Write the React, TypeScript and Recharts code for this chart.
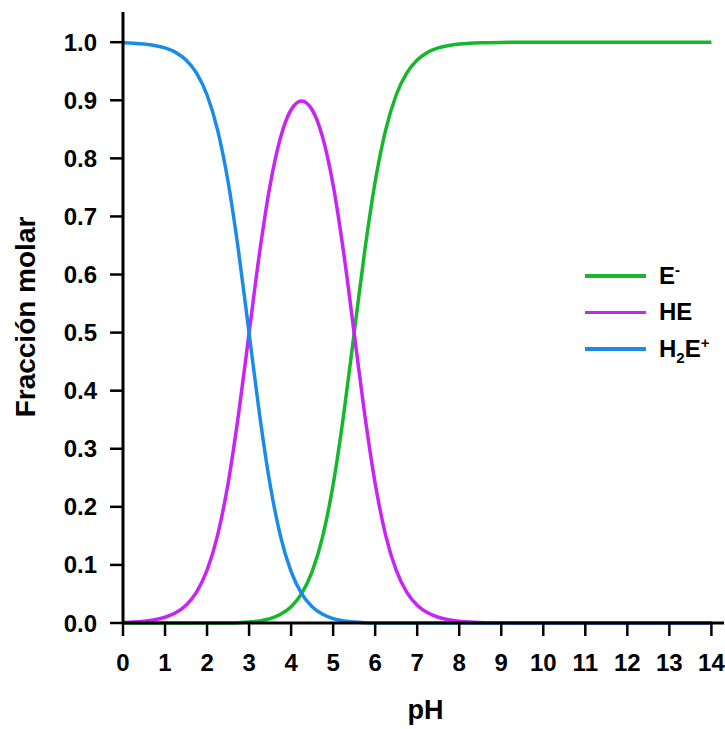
import { Label, Legend, Line, LineChart, XAxis, YAxis } from "recharts"

// pH grid and molar fractions
const ph = [
  0, 0.25, 0.5, 0.75, 1, 1.25, 1.5, 1.75, 2, 2.25, 2.5, 2.75, 3, 3.25, 3.5,
  3.75, 4, 4.25, 4.5, 4.75, 5, 5.25, 5.5, 5.75, 6, 6.25, 6.5, 6.75, 7, 7.25,
  7.5, 7.75, 8, 8.25, 8.5, 9, 10, 11, 12, 13, 14,
]

const eMinus = [
  0, 0, 0, 0, 0, 0, 0, 0, 0, 0.0001, 0.0002, 0.0006, 0.0016, 0.0036, 0.0075,
  0.0149, 0.0279, 0.0505, 0.0884, 0.1487, 0.2384, 0.3586, 0.4992, 0.6397,
  0.7596, 0.8489, 0.9091, 0.9468, 0.9693, 0.9825, 0.9901, 0.9944, 0.9968,
  0.9982, 0.999, 0.9997, 1, 1, 1, 1, 1,
]

const he = [
  0.001, 0.0018, 0.0032, 0.0056, 0.0099, 0.0175, 0.0307, 0.0532, 0.0909,
  0.151, 0.2402, 0.3597, 0.4992, 0.6378, 0.754, 0.8364, 0.8837, 0.8989,
  0.8837, 0.8364, 0.754, 0.6378, 0.4992, 0.3597, 0.2402, 0.151, 0.0909,
  0.0532, 0.0307, 0.0175, 0.0099, 0.0056, 0.0032, 0.0018, 0.001, 0.0003, 0,
  0, 0, 0, 0,
]

const h2ePlus = [
  0.999, 0.9982, 0.9968, 0.9944, 0.9901, 0.9825, 0.9693, 0.9468, 0.9091,
  0.8489, 0.7596, 0.6397, 0.4992, 0.3586, 0.2384, 0.1487, 0.0884, 0.0505,
  0.0279, 0.0149, 0.0075, 0.0036, 0.0016, 0.0006, 0.0002, 0.0001, 0, 0, 0, 0,
  0, 0, 0, 0, 0, 0, 0, 0, 0, 0, 0,
]

const xTicks = [0, 1, 2, 3, 4, 5, 6, 7, 8, 9, 10, 11, 12, 13, 14]
const yTicks = [0, 0.1, 0.2, 0.3, 0.4, 0.5, 0.6, 0.7, 0.8, 0.9, 1.0]
const legendOrder = ["e", "he", "h2e"]

const data = ph.map((p, i) => ({
  ph: p,
  e: eMinus[i],
  he: he[i],
  h2e: h2ePlus[i],
}))

const FONT = '"Liberation Sans", Arial, sans-serif'
const GREEN = "#14b82a"
const PURPLE = "#c824f5"
const BLUE = "#1a8ce8"

const tickStyle = { fill: "#000", fontSize: 24, fontWeight: 700, fontFamily: FONT }
const axisLine = { stroke: "#000", strokeWidth: 3 }
const tickLine = { stroke: "#000", strokeWidth: 2.5 }

const small = { fontSize: 15, lineHeight: 0 }
const legendLabels: Record<string, React.ReactNode> = {
  e: (
    <>
      E<sup style={small}>-</sup>
    </>
  ),
  he: <>HE</>,
  h2e: (
    <>
      H<sub style={small}>2</sub>E<sup style={small}>+</sup>
    </>
  ),
}

function LegendBox({ payload }: any) {
  const entries = legendOrder
    .map((k) => (payload || []).find((p: any) => p.dataKey === k))
    .filter(Boolean)
  return (
    <div style={{ fontFamily: FONT, fontWeight: 700, fontSize: 24 }}>
      {entries.map((entry: any) => (
        <div
          key={entry.dataKey}
          style={{ display: "flex", alignItems: "center", height: 36.5 }}
        >
          <div style={{ width: 61, height: 3.5, background: entry.color }} />
          <span style={{ marginLeft: 13, color: "#000" }}>
            {legendLabels[entry.dataKey]}
          </span>
        </div>
      ))}
    </div>
  )
}

export default function App() {
  return (
    <div style={{ position: "absolute", left: 0, top: 0, background: "#fff" }}>
      <LineChart
        width={725}
        height={729}
        data={data}
        margin={{ top: 12, right: 1, left: 0, bottom: 0 }}
      >
        <XAxis
          dataKey="ph"
          type="number"
          domain={[0, 14.3]}
          ticks={xTicks}
          height={106}
          tickSize={13}
          tickMargin={18}
          tick={tickStyle}
          axisLine={axisLine}
          tickLine={tickLine}
        >
          <Label
            content={({ viewBox }: any) => (
              <text
                x={viewBox.x + viewBox.width / 2 + 2}
                y={viewBox.y + 96}
                textAnchor="middle"
                fontSize={27}
                fontWeight={700}
                fontFamily={FONT}
                fill="#000"
              >
                pH
              </text>
            )}
          />
        </XAxis>
        <YAxis
          type="number"
          domain={[0, 1.052]}
          ticks={yTicks}
          width={123}
          tickSize={13}
          tickMargin={13}
          tick={tickStyle}
          tickFormatter={(v: number) => v.toFixed(1)}
          axisLine={axisLine}
          tickLine={tickLine}
        >
          <Label
            content={() => {
              const cx = 25.5
              const cy = 317
              return (
                <text
                  x={cx}
                  y={cy}
                  transform={`rotate(-90, ${cx}, ${cy})`}
                  textAnchor="middle"
                  dominantBaseline="central"
                  fontSize={28}
                  fontWeight={700}
                  fontFamily={FONT}
                  fill="#000"
                >
                  Fracción molar
                </text>
              )
            }}
          />
        </YAxis>
        <Legend
          layout="horizontal"
          align="center"
          verticalAlign="middle"
          content={LegendBox}
          wrapperStyle={{ left: 585, top: 257.5, width: 140, height: "auto" }}
        />
        <Line
          type="monotone"
          dataKey="e"
          name="E-"
          stroke={GREEN}
          strokeWidth={3.5}
          dot={false}
          isAnimationActive={false}
        />
        <Line
          type="monotone"
          dataKey="he"
          name="HE"
          stroke={PURPLE}
          strokeWidth={3.5}
          dot={false}
          isAnimationActive={false}
        />
        <Line
          type="monotone"
          dataKey="h2e"
          name="H2E+"
          stroke={BLUE}
          strokeWidth={3.5}
          dot={false}
          isAnimationActive={false}
        />
      </LineChart>
    </div>
  )
}
